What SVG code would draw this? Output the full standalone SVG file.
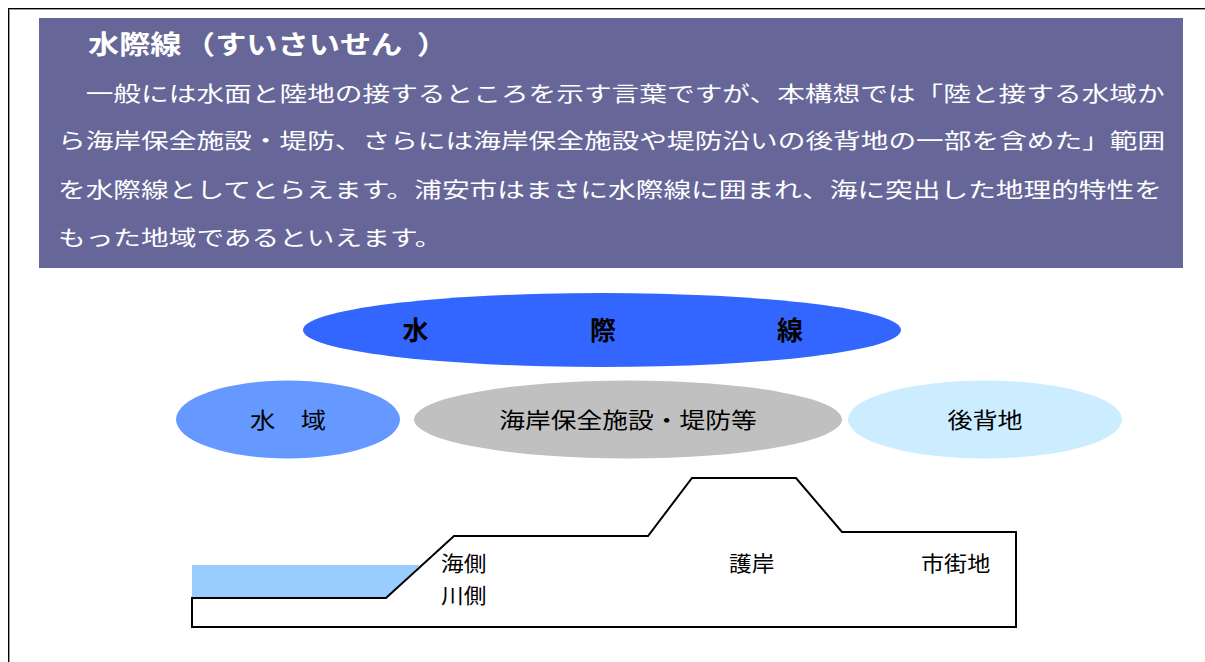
<svg xmlns="http://www.w3.org/2000/svg" width="1205" height="662" viewBox="0 0 1205 662">
<style>
.jp{font-family:"Noto Sans CJK JP","Noto Sans",sans-serif}
.body{font-size:21px;fill:#fff}
.title{font-size:26px;font-weight:bold;fill:#fff}
.lbl{font-size:22px;fill:#000;text-anchor:middle}
.big{font-size:26px;font-weight:bold;fill:#000;text-anchor:middle}
.sec{font-size:21px;fill:#000}
</style>
<rect x="0" y="0" width="1205" height="662" fill="#fff"/>
<g id="frame">
<rect x="8.5" y="8.5" width="1210" height="670" fill="none" stroke="#000" stroke-width="1"/>
<rect x="9.5" y="9.5" width="1210" height="670" fill="none" stroke="#999" stroke-width="1"/>
</g>
<g id="explanation">
<rect x="39" y="18" width="1144" height="250" fill="#666699"/>
<text class="jp title" transform="translate(88,54) scale(1.2,1)" x="0" y="0">水際線<tspan dx="2">（</tspan>すいさいせん<tspan dx="12">）</tspan></text>
<g class="jp body">
<text transform="translate(58,101) scale(1.319,1)" x="0" y="0">　一般には水面と陸地の接するところを示す言葉ですが、本構想では「陸と接する水域か</text>
<text transform="translate(58,148) scale(1.319,1)" x="0" y="0">ら海岸保全施設・堤防、さらには海岸保全施設や堤防沿いの後背地の一部を含めた」範囲</text>
<text transform="translate(58,197) scale(1.319,1)" x="0" y="0">を水際線としてとらえます。浦安市はまさに水際線に囲まれ、海に突出した地理的特性を</text>
<text transform="translate(58,245) scale(1.319,1)" x="0" y="0">もった地域であるといえます。</text>
</g>
</g>
<g id="node-suisaisen">
<ellipse cx="602" cy="330" rx="299" ry="37" fill="#3366FF"/>
<text class="jp big" x="415.5" y="340">水</text>
<text class="jp big" x="603" y="340">際</text>
<text class="jp big" x="790" y="340">線</text>
</g>
<g id="node-suiiki">
<ellipse cx="288" cy="419.5" rx="112" ry="39" fill="#6699FF"/>
<text class="jp lbl" transform="translate(288,428) scale(1.15,1)" x="0" y="0">水　域</text>
</g>
<g id="node-kaigan">
<ellipse cx="628" cy="419.5" rx="214" ry="39" fill="#C0C0C0"/>
<text class="jp lbl" transform="translate(628,428) scale(1.17,1)" x="0" y="0">海岸保全施設・堤防等</text>
</g>
<g id="node-kouhaichi">
<ellipse cx="985" cy="419.5" rx="137" ry="39" fill="#CCECFF"/>
<text class="jp lbl" transform="translate(985,428) scale(1.14,1)" x="0" y="0">後背地</text>
</g>
<g id="cross-section">
<polygon points="192,565 420,565 386,598 192,598" fill="#99CCFF"/>
<path d="M192,598 L386,598 L454,536 L648,536 L692,478 L796,478 L842,532 L1016,532 L1016,627 L192,627 Z" fill="none" stroke="#000" stroke-width="2" stroke-linejoin="miter"/>
<text class="jp sec" transform="translate(441,571) scale(1.08,1)" x="0" y="0">海側</text>
<text class="jp sec" transform="translate(441,603) scale(1.08,1)" x="0" y="0">川側</text>
<text class="jp sec" transform="translate(729,571) scale(1.08,1)" x="0" y="0">護岸</text>
<text class="jp sec" transform="translate(921,571) scale(1.1,1)" x="0" y="0">市街地</text>
</g>
</svg>
